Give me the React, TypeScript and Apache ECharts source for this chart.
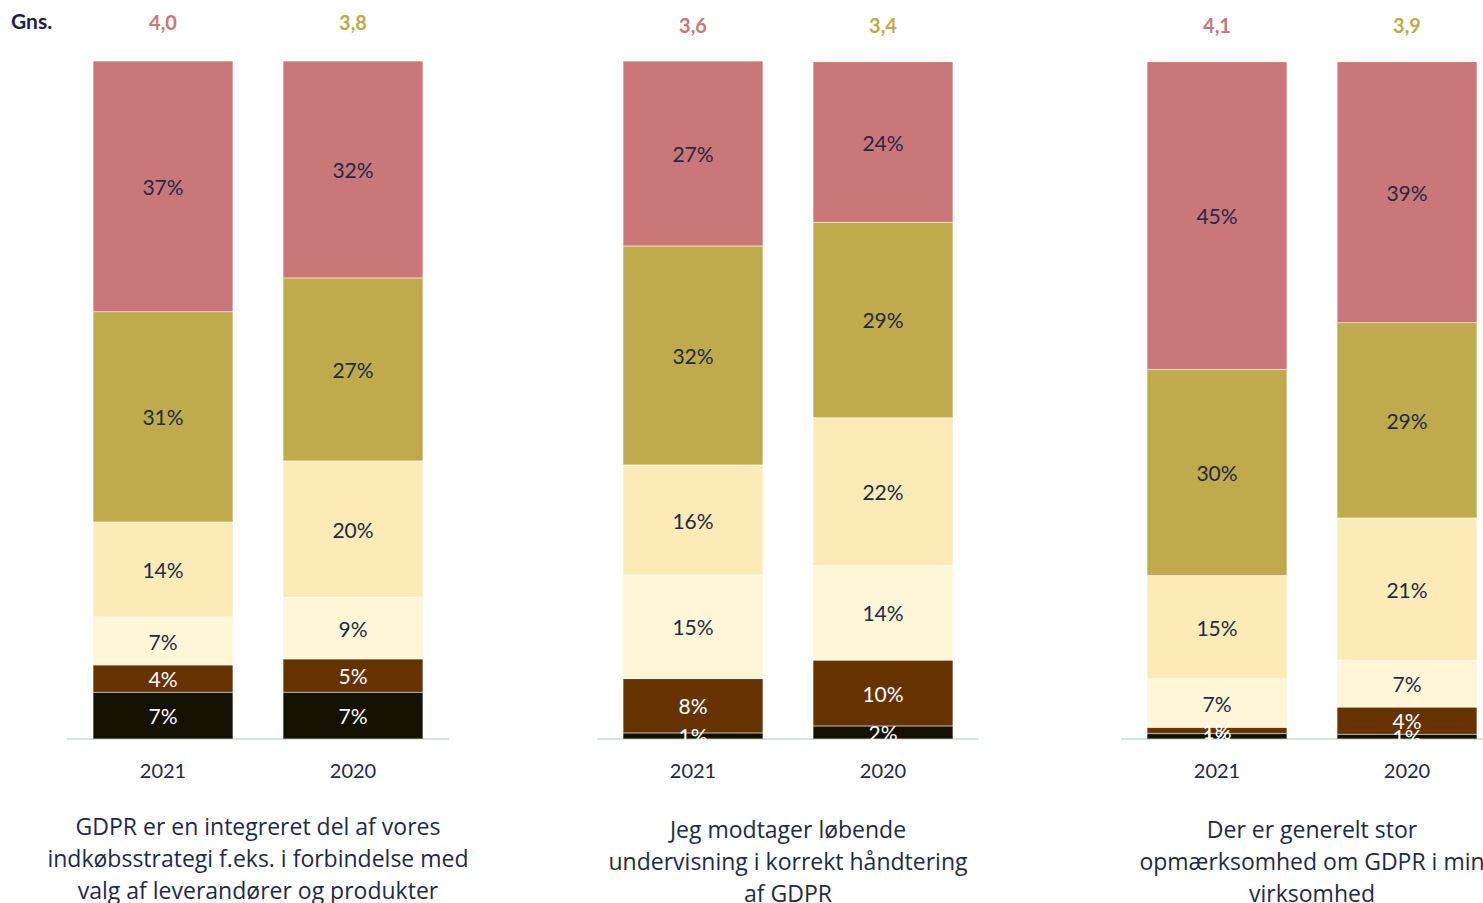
import React, { useEffect, useRef } from "react";
import * as echarts from "echarts";

const years = ["2021", "2020"];
const levels = ["Niveau 1", "Niveau 2", "Niveau 3", "Niveau 4", "Niveau 5", "Niveau 6"];
const levelColors = ["#141100", "#663300", "#FFF6D7", "#FCEBB6", "#BFAA4C", "#C97778"];
const labelColors = ["#ffffff", "#ffffff", "#1F2A44", "#1F2A44", "#1F2A44", "#1F2A44"];

// values per panel: bottom -> top segments
const panel1_2021 = [6.9, 4.0, 7.1, 14.0, 31.0, 37.0];
const panel1_2020 = [6.9, 4.9, 9.1, 20.1, 27.0, 32.0];
const panel2_2021 = [0.9, 8.0, 15.3, 16.2, 32.3, 27.3];
const panel2_2020 = [1.9, 9.7, 14.0, 21.8, 28.8, 23.7];
const panel3_2021 = [0.8, 0.9, 7.2, 15.2, 30.4, 45.4];
const panel3_2020 = [0.7, 4.0, 6.9, 21.0, 28.8, 38.5];

const averages1 = ["4,0", "3,8"];
const averages2 = ["3,6", "3,4"];
const averages3 = ["4,1", "3,9"];

const descriptions = [
  "GDPR er en integreret del af vores\nindkøbsstrategi f.eks. i forbindelse med\nvalg af leverandører og produkter",
  "Jeg modtager løbende\nundervisning i korrekt håndtering\naf GDPR",
  "Der er generelt stor\nopmærksomhed om GDPR i min\nvirksomhed",
];

const panels = [
  { v2021: panel1_2021, v2020: panel1_2020, avg: averages1, desc: descriptions[0] },
  { v2021: panel2_2021, v2020: panel2_2020, avg: averages2, desc: descriptions[1] },
  { v2021: panel3_2021, v2020: panel3_2020, avg: averages3, desc: descriptions[2] },
];

const FONT = "Lato, 'Open Sans', sans-serif";
const DESC_FONT = "'Open Sans', Lato, sans-serif";

export default function App() {
  const ref = useRef<HTMLDivElement>(null);
  useEffect(() => {
    if (!ref.current) return;
    const chart = echarts.init(ref.current, null, { renderer: "svg" });
    const lefts = [68, 598, 1122];
    const gridW = 380;
    const avgMargins = [29, 26, 26];
    const descTops = [810, 813, 813];

    const grids: any[] = [];
    const xAxes: any[] = [];
    const yAxes: any[] = [];
    const series: any[] = [];
    const graphics: any[] = [];

    panels.forEach((p, i) => {
      grids.push({ left: lefts[i], width: gridW, top: 61, bottom: 164, containLabel: false });
      xAxes.push({
        type: "category",
        gridIndex: i,
        data: years,
        axisLine: { show: true, lineStyle: { color: "#D8E4E2", width: 2 } },
        axisTick: { show: false },
        axisLabel: { color: "#1F2A44", fontSize: 20, fontFamily: FONT, margin: 21 },
      });
      xAxes.push({
        type: "category",
        gridIndex: i,
        position: "top",
        data: p.avg,
        axisLine: { show: false },
        axisTick: { show: false },
        axisLabel: {
          margin: avgMargins[i],
          formatter: (v: string, idx: number) => (idx === 0 ? `{a|${v}}` : `{b|${v}}`),
          rich: {
            a: { color: "#C97778", fontSize: 20, fontWeight: "bold", fontFamily: FONT },
            b: { color: "#BFAA4C", fontSize: 20, fontWeight: "bold", fontFamily: FONT },
          },
        },
      });
      yAxes.push({ type: "value", gridIndex: i, min: 0, max: 100, show: false });
      levels.forEach((lv, k) => {
        series.push({
          type: "bar",
          name: lv,
          xAxisIndex: i * 2,
          yAxisIndex: i,
          stack: "s" + i,
          barWidth: 140,
          data: [p.v2021[k], p.v2020[k]],
          itemStyle: { color: levelColors[k], borderColor: "rgba(255,255,255,0.35)", borderWidth: 0.5 },
          label: {
            show: true,
            position: "inside",
            color: labelColors[k],
            fontSize: 21,
            fontFamily: FONT,
            formatter: (prm: any) => Math.round(prm.value) + "%",
          },
        });
      });
      graphics.push({
        type: "text",
        left: lefts[i] + gridW / 2 - 300,
        top: descTops[i],
        style: {
          text: p.desc,
          width: 600,
          textAlign: "center",
          x: 300,
          font: `23px ${DESC_FONT}`,
          fill: "#1F2A44",
          lineHeight: 32,
        },
      });
    });

    graphics.push({
      type: "text",
      left: 11,
      top: 10,
      style: { text: "Gns.", font: `bold 21px ${FONT}`, fill: "#1B2342" },
    });

    chart.setOption({
      animation: false,
      grid: grids,
      xAxis: xAxes,
      yAxis: yAxes,
      series,
      graphic: graphics,
    });
    return () => chart.dispose();
  }, []);
  return (
    <div style={{ position: "absolute", left: 0, top: 0, width: 1483, height: 903, overflow: "hidden", background: "#fff" }}>
      <div ref={ref} style={{ width: 1540, height: 903 }} />
    </div>
  );
}
